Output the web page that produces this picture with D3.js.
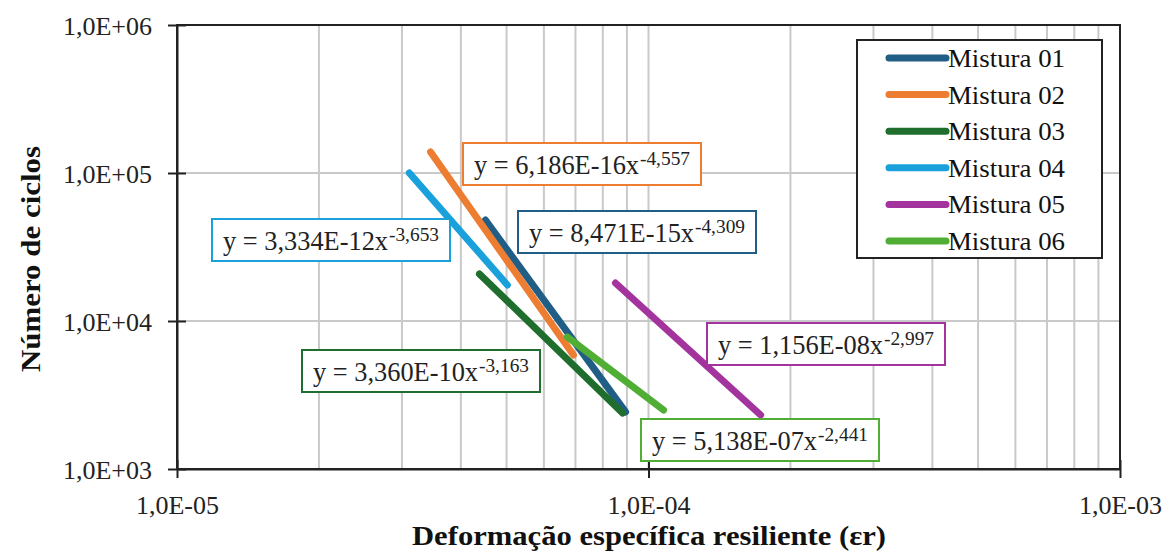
<!DOCTYPE html>
<html><head><meta charset="utf-8">
<script src="https://cdn.jsdelivr.net/npm/d3@7"></script>
<style>body{margin:0;background:#fff}</style>
</head><body><svg id="c" width="1167" height="553"></svg>
<script>
// ---- data ----
const seriesNames = ["Mistura 01","Mistura 02","Mistura 03","Mistura 04","Mistura 05","Mistura 06"];
const startX = [4.51e-5, 3.45e-5, 4.38e-5, 3.11e-5, 8.51e-5, 6.73e-5];
const startY = [48100, 138700, 20800, 100000, 18060, 7800];
const endX   = [8.94e-5, 6.93e-5, 8.81e-5, 5.02e-5, 1.729e-4, 1.076e-4];
const endY   = [2430, 5890, 2390, 17510, 2317, 2503];
const eqCoef = ["8,471E-15","6,186E-16","3,360E-10","3,334E-12","1,156E-08","5,138E-07"];
const eqExp  = ["-4,309","-4,557","-3,163","-3,653","-2,997","-2,441"];
const xTickValues = [1e-5, 1e-4, 1e-3];
const xTickLabels = ["1,0E-05","1,0E-04","1,0E-03"];
const yTickValues = [1e3, 1e4, 1e5, 1e6];
const yTickLabels = ["1,0E+03","1,0E+04","1,0E+05","1,0E+06"];
const xTitle = "Deformação específica resiliente (εr)";
const yTitle = "Número de ciclos";

// ---- styles / layout ----
const colors = ["#215e86","#ed7d31","#1f6e2d","#1aa1dc","#a3349e","#4fae33"];
const boxPos = [[518,211],[463,143],[302,350],[212,219],[707,323],[641,419]]; // label box top-left
const boxW = 238, boxH = 42;
const M = {l:177, r:1120, t:25, b:469};
const FONT = '"Liberation Serif"';

const svg = d3.select("#c");
const x = d3.scaleLog().domain([1e-5,1e-3]).range([M.l,M.r]);
const y = d3.scaleLog().domain([1e3,1e6]).range([M.b,M.t]);

svg.append("g").selectAll("line").data(x.ticks().filter(v=>v>1.0001e-5 && v<0.9999e-3))
  .join("line").attr("x1",d=>x(d)).attr("x2",d=>x(d)).attr("y1",M.t).attr("y2",M.b)
  .attr("stroke","#c9c9c9").attr("stroke-width",2);
svg.append("g").selectAll("line").data(yTickValues.slice(1,-1))
  .join("line").attr("y1",d=>y(d)).attr("y2",d=>y(d)).attr("x1",M.l).attr("x2",M.r)
  .attr("stroke","#c9c9c9").attr("stroke-width",2);

svg.append("rect").attr("x",M.l).attr("y",M.t).attr("width",M.r-M.l).attr("height",M.b-M.t)
  .attr("fill","none").attr("stroke","#222").attr("stroke-width",2);

const xAxis = d3.axisBottom(x).tickValues(xTickValues).tickFormat((d,i)=>xTickLabels[i]).tickSizeInner(9).tickSizeOuter(0).tickPadding(14);
const gx = svg.append("g").attr("transform",`translate(0,${M.b})`).call(xAxis);
gx.select(".domain").attr("stroke","#222").attr("stroke-width",2);
gx.selectAll(".tick line").attr("stroke","#222").attr("stroke-width",2).attr("y1",-9);
gx.selectAll(".tick text").attr("font-size",26).style("font-family",FONT).attr("fill","#222").attr("dy","0.85em");

const yAxis = d3.axisLeft(y).tickValues(yTickValues).tickFormat((d,i)=>yTickLabels[i]).tickSizeInner(9).tickSizeOuter(0).tickPadding(16);
const gy = svg.append("g").attr("transform",`translate(${M.l},0)`).call(yAxis);
gy.select(".domain").attr("stroke","#222").attr("stroke-width",2);
gy.selectAll(".tick line").attr("stroke","#222").attr("stroke-width",2).attr("x1",9);
gy.selectAll(".tick text").attr("font-size",26).style("font-family",FONT).attr("fill","#222").attr("dy","0.36em");

const idx = d3.range(seriesNames.length);
svg.append("g").selectAll("line").data(idx).join("line")
  .attr("x1",i=>x(startX[i])).attr("y1",i=>y(startY[i]))
  .attr("x2",i=>x(endX[i])).attr("y2",i=>y(endY[i]))
  .attr("stroke",i=>colors[i]).attr("stroke-width",7).attr("stroke-linecap","round");

const eg = svg.append("g").selectAll("g").data(idx).join("g")
  .attr("transform",i=>`translate(${boxPos[i][0]},${boxPos[i][1]})`);
eg.append("rect").attr("width",boxW).attr("height",boxH).attr("fill","#fff")
  .attr("stroke",i=>colors[i]).attr("stroke-width",2);
eg.append("text").attr("x",11).attr("y",31).attr("font-size",28).style("font-family",FONT).attr("fill","#222")
  .attr("textLength",165).attr("lengthAdjust","spacingAndGlyphs")
  .text(i=>`y = ${eqCoef[i]}x`);
eg.append("text").attr("x",177).attr("y",22).attr("font-size",18).style("font-family",FONT).attr("fill","#222")
  .attr("textLength",50).attr("lengthAdjust","spacingAndGlyphs")
  .text(i=>eqExp[i]);

const lg = svg.append("g").attr("transform","translate(857,40)");
lg.append("rect").attr("width",245).attr("height",218).attr("fill","#fff").attr("stroke","#222").attr("stroke-width",2);
const li = lg.selectAll("g").data(idx).join("g").attr("transform",i=>`translate(0,${18+i*36.6})`);
li.append("line").attr("x1",32).attr("x2",89).attr("stroke",i=>colors[i]).attr("stroke-width",7).attr("stroke-linecap","round");
li.append("text").attr("x",91).attr("y",9).attr("font-size",25).style("font-family",FONT).attr("fill","#111")
  .attr("textLength",117).attr("lengthAdjust","spacingAndGlyphs").text(i=>seriesNames[i]);

svg.append("text").style("font-family",FONT).attr("x",649).attr("y",545).attr("text-anchor","middle")
  .attr("font-size",27).attr("font-weight","bold").attr("fill","#111")
  .attr("textLength",474).attr("lengthAdjust","spacingAndGlyphs").text(xTitle);
svg.append("text").style("font-family",FONT).attr("transform",`translate(40,259) rotate(-90)`).attr("text-anchor","middle")
  .attr("font-size",27).attr("font-weight","bold").attr("fill","#111")
  .attr("textLength",226).attr("lengthAdjust","spacingAndGlyphs").text(yTitle);
</script></body></html>
